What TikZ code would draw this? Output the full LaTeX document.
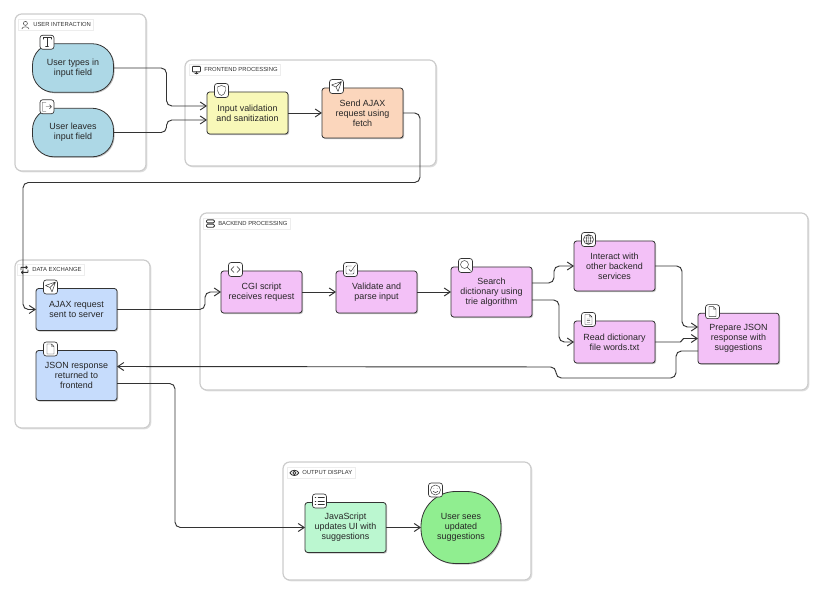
\documentclass[tikz,border=0pt]{standalone}
\usepackage{xcolor}
\usepackage{fontspec}
\setmainfont{Liberation Sans}
\usetikzlibrary{arrows.meta,positioning,fit,calc,shadows}
\definecolor{ink}{HTML}{333333}
\definecolor{skyfill}{HTML}{ADD8E6}
\definecolor{lemonfill}{HTML}{F8F8B8}
\definecolor{peachfill}{HTML}{FBD6BC}
\definecolor{bluefill}{HTML}{C6DCFC}
\definecolor{pinkfill}{HTML}{F3C1F7}
\definecolor{mintfill}{HTML}{BBF7D0}
\definecolor{greenfill}{HTML}{90EE90}
\tikzset{
    glyph/.style={draw=ink, line width=.35pt, line join=round, line cap=round},
    pics/gT/.style={code={\draw[glyph] (-4,-3) -- (-4,-4.5) -- (4,-4.5) -- (4,-3) (0,-4.5) -- (0,4.5) (-1.5,4.5) -- (1.5,4.5);}},
    pics/gExit/.style={code={\draw[glyph] (-1,-4.5) -- (-4.5,-4.5) -- (-4.5,4.5) -- (-1,4.5) (-1,0) -- (4.5,0) (2.5,-2) -- (4.5,0) -- (2.5,2);}},
    pics/gShield/.style={code={\draw[glyph] (0,-5) -- (4,-3.5) -- (4,0) .. controls (4,3) and (1.5,4.5) .. (0,5) .. controls (-1.5,4.5) and (-4,3) .. (-4,0) -- (-4,-3.5) -- cycle;}},
    pics/gSend/.style={code={\draw[glyph] (5,-5) -- (-5,-1.5) -- (-.5,.5) -- (1.5,5) -- cycle (5,-5) -- (-.5,.5);}},
    pics/gFile/.style={code={\draw[glyph] (-3.5,-5) -- (1,-5) -- (3.5,-2.5) -- (3.5,5) -- (-3.5,5) -- cycle (1,-5) -- (1,-2.5) -- (3.5,-2.5);}},
    pics/gDoc/.style={code={\draw[glyph] (-3.5,-5) -- (1,-5) -- (3.5,-2.5) -- (3.5,5) -- (-3.5,5) -- cycle (1,-5) -- (1,-2.5) -- (3.5,-2.5) (-1.5,-.5) -- (1.5,-.5) (-1.5,1.2) -- (1.5,1.2) (-1.5,3) -- (1.5,3);}},
    pics/gCode/.style={code={\draw[glyph] (-1.5,-3) -- (-4.5,0) -- (-1.5,3) (1.5,-3) -- (4.5,0) -- (1.5,3);}},
    pics/gCheck/.style={code={\draw[glyph, rounded corners=.8pt] (3.5,0) -- (3.5,4.5) -- (-4.5,4.5) -- (-4.5,-3.5) -- (1,-3.5); \draw[glyph] (-1.5,0) -- (.5,2) -- (5,-4.5);}},
    pics/gSearch/.style={code={\draw[glyph] (-1,-1) circle [radius=4] (2,2) -- (5,5);}},
    pics/gGlobe/.style={code={\draw[glyph] (0,0) circle [radius=5] (0,0) ellipse [x radius=2.2, y radius=5] (0,-5) -- (0,5) (-5,-1.5) -- (5,-1.5) (-5,1.5) -- (5,1.5);}},
    pics/gList/.style={code={\draw[glyph] (-1.5,-3.5) -- (5,-3.5) (-1.5,0) -- (5,0) (-1.5,3.5) -- (5,3.5) (-4.5,-3.5) -- (-3.5,-3.5) (-4.5,0) -- (-3.5,0) (-4.5,3.5) -- (-3.5,3.5);}},
    pics/gSmile/.style={code={\draw[glyph] (0,0) circle [radius=5] (-2.5,1.2) .. controls (-1.5,3.2) and (1.5,3.2) .. (2.5,1.2) (-1.8,-1.5) -- (-1.6,-1.5) (1.6,-1.5) -- (1.8,-1.5);}},
    pics/gUser/.style={code={\draw[glyph] (0,-1.5) circle [radius=2] (-3.5,4) .. controls (-3.5,1.2) and (3.5,1.2) .. (3.5,4);}},
    pics/gScreen/.style={code={\draw[glyph, line width=.6pt, rounded corners=.5pt] (-4,-3.5) rectangle (4,2); \draw[glyph, line width=.6pt] (0,2) -- (0,4) (-1.5,4) -- (1.5,4);}},
    pics/gServer/.style={code={\draw[glyph, line width=.6pt, rounded corners=.8pt] (-4,-3.5) rectangle (4,-.5) (-4,.8) rectangle (4,3.8);}},
    pics/gRepeat/.style={code={\draw[glyph, line width=.6pt] (-3.5,0) -- (-3.5,-2.5) -- (3,-2.5) (1.5,-4) -- (3,-2.5) -- (1.5,-1) (3.5,0) -- (3.5,2.5) -- (-3,2.5) (-1.5,1) -- (-3,2.5) -- (-1.5,4);}},
    pics/gEye/.style={code={\draw[glyph, line width=.6pt] (-4.5,0) .. controls (-2.5,-3.5) and (2.5,-3.5) .. (4.5,0) .. controls (2.5,3.5) and (-2.5,3.5) .. (-4.5,0) (0,0) circle [radius=1.6];}}
}
\begin{document}
\begin{tikzpicture}[
    x=.75pt, y=-.75pt,
    node distance=25.5pt,
    group/.style={draw=black!20, line width=.9pt, fill=white, rounded corners=5pt, inner sep=0pt, drop shadow={shadow xshift=1pt, shadow yshift=-1pt, fill=black!25, opacity=.5}},
    tag/.style={draw=black!7, line width=.3pt, fill=white, anchor=west, font=\fontsize{4.4}{5}\selectfont, text=ink, inner xsep=2pt, inner ysep=2pt, minimum height=8.4pt},
    task/.style={draw=ink, line width=.6pt, text=black!85, align=center, font=\fontsize{6.7}{7.5}\selectfont, minimum width=60.75pt, inner sep=1pt, outer sep=0pt, rounded corners=2pt, drop shadow={shadow xshift=.8pt, shadow yshift=-.8pt, fill=black!40, opacity=.6}},
    flat/.style={task, minimum height=31.5pt},
    tall/.style={task, minimum height=37.5pt},
    pill/.style={task, minimum height=36.4pt, rounded corners=16pt, fill=skyfill},
    iconbox/.style={draw=ink, line width=.5pt, fill=white, rounded corners=2pt, minimum size=10.5pt, inner sep=0pt},
    flow/.style={draw=ink, line width=.7pt, rounded corners=4pt, -{Straight Barb[length=4.5pt,width=6pt]}}
]
    \useasboundingbox (0,0) rectangle (824,609);

    \node [group, fit={(15,14) (146,171)}] (guser) {};
    \node [group, fit={(185,60) (436,166)}] (gfront) {};
    \node [group, fit={(15,260) (150,428)}] (gdata) {};
    \node [group, fit={(200,213) (808,390)}] (gback) {};
    \node [group, fit={(283,462) (531,580)}] (gout) {};

    \node [tag] (tuser) at ($(guser.north west)+(4,11.5)$) {\hspace{9pt}USER INTERACTION};
    \node [tag] (tfront) at ($(gfront.north west)+(5,10.5)$) {\hspace{9pt}FRONTEND PROCESSING};
    \node [tag] (tdata) at ($(gdata.north west)+(3,10.5)$) {\hspace{9pt}DATA EXCHANGE};
    \node [tag] (tback) at ($(gback.north west)+(4,11)$) {\hspace{9pt}BACKEND PROCESSING};
    \node [tag] (tout) at ($(gout.north west)+(5,11.5)$) {\hspace{9pt}OUTPUT DISPLAY};
    \pic at ($(tuser.west)+(7,0)$) {gUser};
    \pic at ($(tfront.west)+(7,0)$) {gScreen};
    \pic at ($(tdata.west)+(7,0)$) {gRepeat};
    \pic at ($(tback.west)+(7,0)$) {gServer};
    \pic at ($(tout.west)+(7,0)$) {gEye};

    \node [pill] (types) at (73,68) {User types in \\ input field};
    \node [pill, below=12pt of types] (leaves) {User leaves \\ input field};

    \node [flat, fill=lemonfill] (input) at (247.5,113) {Input validation \\ and sanitization};
    \node [tall, fill=peachfill, right=of input] (send) {Send AJAX \\ request using \\ fetch};

    \node [flat, fill=bluefill] (ajax) at (76.5,309.5) {AJAX request \\ sent to server};
    \node [tall, fill=bluefill, below=15pt of ajax] (json) {JSON response \\ returned to \\ frontend};

    \node [flat, fill=pinkfill] (cgi) at (261.5,292) {CGI script \\ receives request};
    \node [flat, fill=pinkfill, right=of cgi] (parse) {Validate and \\ parse input};
    \node [tall, fill=pinkfill, right=of parse] (search) {Search \\ dictionary using \\ trie algorithm};
    \node [tall, fill=pinkfill] (services) at (614.5,266) {Interact with \\ other backend \\ services};
    \node [flat, fill=pinkfill, below=22.5pt of services] (words) {Read dictionary \\ file words.txt};
    \node [tall, fill=pinkfill, minimum height=38pt] (prepare) at (738.5,338.5) {Prepare JSON \\ response with \\ suggestions};

    \node [tall, fill=mintfill] (update) at (345.5,527.5) {JavaScript \\ updates UI with \\ suggestions};
    \node [task, fill=greenfill, minimum width=60pt, minimum height=54pt, rounded corners=26pt, right=26.25pt of update] (sees) {User sees \\ updated \\ suggestions};

    \foreach \host/\icon in {types/gT, leaves/gExit, input/gShield, send/gSend, ajax/gSend, json/gFile, cgi/gCode, parse/gCheck, search/gSearch, services/gGlobe, words/gDoc, prepare/gFile, update/gList, sees/gSmile} {
        \node [iconbox] (i\host) at ($(\host.north west)+(14.5,-1.5)$) {};
        \pic at (i\host) {\icon};
    }

    \draw [flow] (types.east) -- ++(53,0) |- ($(input.west)+(0,-7)$);
    \draw [flow] (leaves.east) -- ++(53,0) |- ($(input.west)+(0,7)$);
    \draw [flow] (input) -- (send);
    \draw [flow] (send.east) -- ++(17,0) -- ++(0,69.5) -| ($(ajax.west)+(-13,0)$) -- (ajax.west);
    \draw [flow] (ajax.east) -- ++(88,0) |- (cgi.west);
    \draw [flow] (cgi) -- (parse);
    \draw [flow] (parse) -- (search);
    \draw [flow] ($(search.east)+(0,-9)$) -- ++(22,0) |- (services.west);
    \draw [flow] ($(search.east)+(0,8)$) -- ++(27,0) |- (words.west);
    \draw [flow] (services.east) -- ++(27,0) |- ($(prepare.west)+(0,-11.5)$);
    \draw [flow, rounded corners=1.2pt] (words.east) -- ++(27,0) |- (prepare.west);
    \draw [flow] ($(prepare.west)+(0,12.5)$) -- ++(-22,0) -- ++(0,27) -- ++(-120,0) -- ++(0,-11) -- ($(json.east)+(0,-9)$);
    \draw [flow] ($(json.east)+(0,8)$) -- ++(58,0) |- (update.west);
    \draw [flow] (update) -- (sees);
\end{tikzpicture}
\end{document}
